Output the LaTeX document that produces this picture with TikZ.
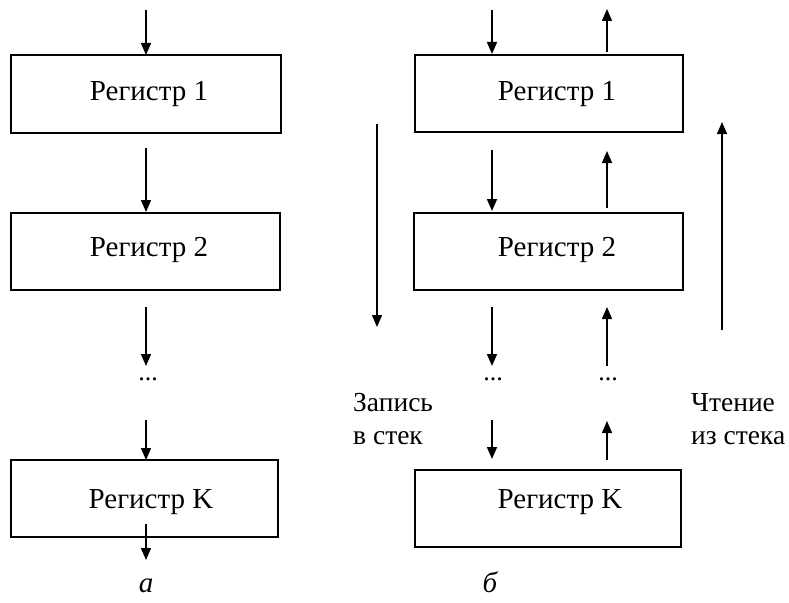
\documentclass[tikz,border=0pt]{standalone}
\usepackage{fontspec}
\setmainfont{Liberation Serif}
\usetikzlibrary{arrows.meta}
\begin{document}
\begin{tikzpicture}[x=1pt,y=-1pt,
  regbox/.style={draw, line width=1.6pt, inner sep=0pt},
  regtext/.style={anchor=base, font=\fontsize{29}{33}\selectfont, inner sep=0pt},
  lbl/.style={anchor=base west, font=\fontsize{27.5}{33}\selectfont, inner sep=0pt, align=left},
  arr/.style={line width=1.5pt, -{Triangle[length=12pt,width=10pt]}},
  dotsty/.style={anchor=base, font=\fontsize{26}{33}\selectfont, inner sep=0pt},
  captsty/.style={anchor=base, font=\fontsize{29}{33}\selectfont\itshape, inner sep=0pt}]
\useasboundingbox (0,0) rectangle (789,602);
% boxes, column a
\node[regbox, minimum width=270pt, minimum height=78pt] (L1) at (146,94) {};
\node[regbox, minimum width=269pt, minimum height=77pt] (L2) at (145.5,251.5) {};
\node[regbox, minimum width=267pt, minimum height=77pt] (LK) at (144.5,498.5) {};
% boxes, column b
\node[regbox, minimum width=268pt, minimum height=77pt] (R1) at (549,93.5) {};
\node[regbox, minimum width=269pt, minimum height=77pt] (R2) at (548.5,251.5) {};
\node[regbox, minimum width=266pt, minimum height=77pt] (RK) at (548,508.5) {};
% texts
\node[regtext] (L1t) at (149,100) {Регистр 1};
\node[regtext] (L2t) at (149,256) {Регистр 2};
\node[regtext] (LKt) at (151,508) {Регистр K};
\node[regtext] (R1t) at (557,100) {Регистр 1};
\node[regtext] (R2t) at (557,256) {Регистр 2};
\node[regtext] (RKt) at (560,508) {Регистр K};
% dots
\node[dotsty] (Ld) at (148,380) {...};
\node[dotsty] (Rd1) at (493,380) {...};
\node[dotsty] (Rd2) at (608,380) {...};
% side labels
\node[lbl] (wr) at (353,444) {Запись\\в стек};
\node[lbl] (rd) at (691,444) {Чтение\\из стека};
% captions
\node[captsty] (ca) at (146,592) {а};
\node[captsty] (cb) at (490,592) {б};
% coordinates, column a
\coordinate (a0s) at (146,10);  \coordinate (a0e) at (146,55);
\coordinate (a1s) at (146,148); \coordinate (a1e) at (146,212);
\coordinate (a2s) at (146,307); \coordinate (a2e) at (146,366);
\coordinate (a3s) at (146,420); \coordinate (a3e) at (146,460);
\coordinate (a4s) at (146,524); \coordinate (a4e) at (146,560);
\draw[arr] (a0s) -- (a0e);
\draw[arr] (a1s) -- (a1e);
\draw[arr] (a2s) -- (a2e);
\draw[arr] (a3s) -- (a3e);
\draw[arr] (a4s) -- (a4e);
% column b, down
\coordinate (b0s) at (492,10);  \coordinate (b0e) at (492,54);
\coordinate (b1s) at (492,150); \coordinate (b1e) at (492,211);
\coordinate (b2s) at (492,307); \coordinate (b2e) at (492,366);
\coordinate (b3s) at (492,420); \coordinate (b3e) at (492,459);
\draw[arr] (b0s) -- (b0e);
\draw[arr] (b1s) -- (b1e);
\draw[arr] (b2s) -- (b2e);
\draw[arr] (b3s) -- (b3e);
% column b, up
\coordinate (u0s) at (607,52);  \coordinate (u0e) at (607,9);
\coordinate (u1s) at (607,208); \coordinate (u1e) at (607,151);
\coordinate (u2s) at (607,366); \coordinate (u2e) at (607,307);
\coordinate (u3s) at (607,460); \coordinate (u3e) at (607,421);
\draw[arr] (u0s) -- (u0e);
\draw[arr] (u1s) -- (u1e);
\draw[arr] (u2s) -- (u2e);
\draw[arr] (u3s) -- (u3e);
% long arrows
\coordinate (wls) at (377,124); \coordinate (wle) at (377,327);
\coordinate (rls) at (722,330); \coordinate (rle) at (722,122);
\draw[arr] (wls) -- (wle);
\draw[arr] (rls) -- (rle);
\end{tikzpicture}
\end{document}
